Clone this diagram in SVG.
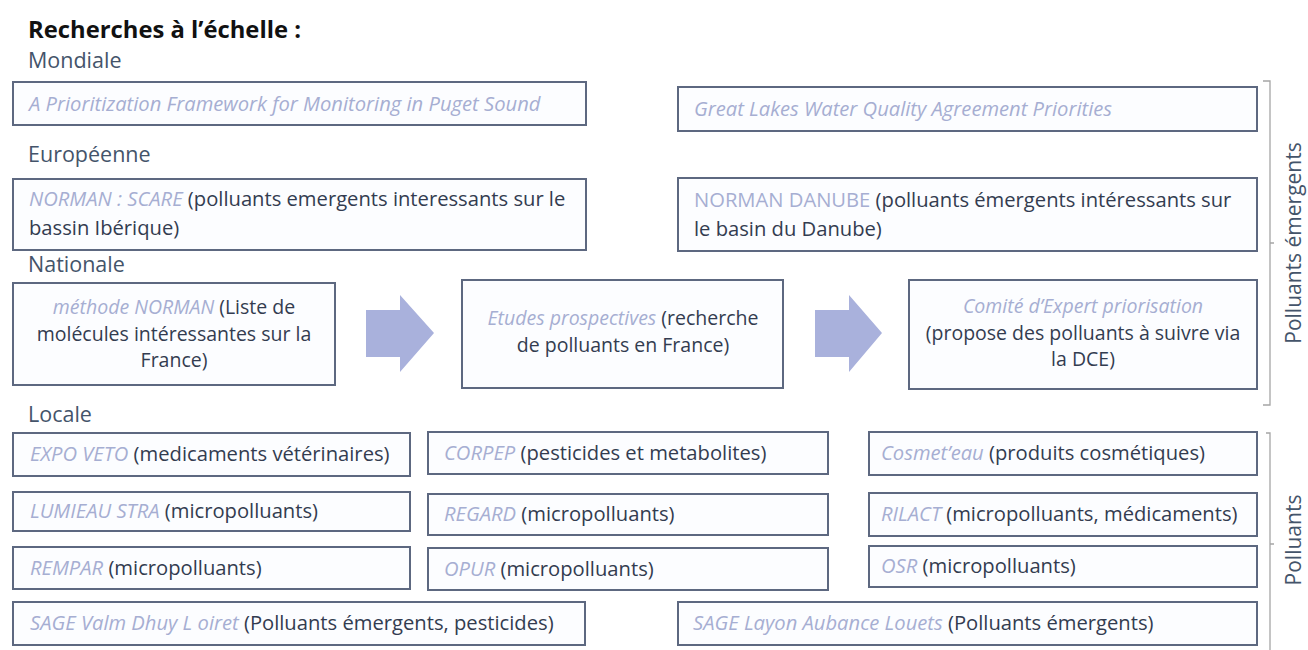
<svg xmlns="http://www.w3.org/2000/svg" width="1308" height="650" viewBox="0 0 1308 650">
<defs>
<style>
.box{fill:#fcfdff;stroke:#5d6880;stroke-width:2}
.t{font-family:"Open Sans","Liberation Sans",sans-serif;font-size:20.2px;fill:#333c50}
.c{font-size:19.5px;text-anchor:middle}
.i{font-style:italic;fill:#a6aed2}
.n{font-style:normal}
.lab{font-family:"Open Sans","Liberation Sans",sans-serif;font-size:21.5px;fill:#44546a}
.title{font-family:"Open Sans","Liberation Sans",sans-serif;font-size:23.8px;font-weight:bold;fill:#111}
.br{fill:none;stroke:#a5a5a5;stroke-width:1.3}
.arr{fill:#a9b1dc}
.side{font-family:"Open Sans","Liberation Sans",sans-serif;font-size:21px;fill:#44546a}
</style>
</defs>
<rect width="1308" height="650" fill="#ffffff"/>
<g id="labels">
<text class="title" x="28" y="38">Recherches à l’échelle :</text>
<text class="lab" x="28" y="68">Mondiale</text>
<text class="lab" x="28" y="162">Européenne</text>
<text class="lab" x="28" y="272">Nationale</text>
<text class="lab" x="28" y="422">Locale</text>
</g>
<g id="n-puget"><rect class="box" x="13" y="82" width="573" height="43"/><text class="t i" x="29" y="111">A Prioritization Framework for Monitoring in Puget Sound</text></g>
<g id="n-greatlakes"><rect class="box" x="678" y="87" width="579" height="44"/><text class="t i" x="694" y="116">Great Lakes Water Quality Agreement Priorities</text></g>
<g id="n-scare"><rect class="box" x="13" y="179" width="573" height="71"/><text class="t" x="29" y="206"><tspan class="i">NORMAN : SCARE</tspan> (polluants emergents interessants sur le</text><text class="t" x="29" y="235">bassin Ibérique)</text></g>
<g id="n-danube"><rect class="box" x="678" y="178" width="579" height="73"/><text class="t" x="694" y="207"><tspan class="i n">NORMAN DANUBE</tspan> (polluants émergents intéressants sur</text><text class="t" x="694" y="236">le basin du Danube)</text></g>
<g id="n-methode"><rect class="box" x="13" y="283" width="322" height="102"/><text class="t c" x="174" y="314"><tspan class="i">méthode NORMAN</tspan> (Liste de</text><text class="t c" x="174" y="341">molécules intéressantes sur la</text><text class="t c" x="174" y="367">France)</text></g>
<g id="n-etudes"><rect class="box" x="462" y="280" width="321" height="108"/><text class="t c" x="623" y="325"><tspan class="i">Etudes prospectives</tspan> (recherche</text><text class="t c" x="623" y="352">de polluants en France)</text></g>
<g id="n-comite"><rect class="box" x="909" y="280" width="348" height="109"/><text class="t c i" x="1083" y="313">Comité d’Expert priorisation</text><text class="t c" x="1083" y="340">(propose des polluants à suivre via</text><text class="t c" x="1083" y="366">la DCE)</text></g>
<g id="n-expoveto"><rect class="box" x="13" y="433" width="397" height="43"/><text class="t" x="30" y="461"><tspan class="i">EXPO VETO</tspan> (medicaments vétérinaires)</text></g>
<g id="n-corpep"><rect class="box" x="428" y="432" width="400" height="42"/><text class="t" x="444" y="460"><tspan class="i">CORPEP</tspan> (pesticides et metabolites)</text></g>
<g id="n-cosmeteau"><rect class="box" x="869" y="432" width="388" height="43"/><text class="t" x="881" y="460"><tspan class="i">Cosmet’eau</tspan> (produits cosmétiques)</text></g>
<g id="n-lumieau"><rect class="box" x="13" y="492" width="397" height="39"/><text class="t" x="30" y="518"><tspan class="i">LUMIEAU STRA</tspan> (micropolluants)</text></g>
<g id="n-regard"><rect class="box" x="428" y="494" width="400" height="41"/><text class="t" x="444" y="521"><tspan class="i">REGARD</tspan> (micropolluants)</text></g>
<g id="n-rilact"><rect class="box" x="869" y="493" width="388" height="43"/><text class="t" x="881" y="521"><tspan class="i">RILACT</tspan> (micropolluants, médicaments)</text></g>
<g id="n-rempar"><rect class="box" x="13" y="547" width="397" height="42"/><text class="t" x="30" y="575"><tspan class="i">REMPAR</tspan> (micropolluants)</text></g>
<g id="n-opur"><rect class="box" x="428" y="548" width="400" height="42"/><text class="t" x="444" y="576"><tspan class="i">OPUR</tspan> (micropolluants)</text></g>
<g id="n-osr"><rect class="box" x="869" y="546" width="388" height="41"/><text class="t" x="881" y="573"><tspan class="i">OSR</tspan> (micropolluants)</text></g>
<g id="n-sagevalm"><rect class="box" x="13" y="602" width="572" height="43"/><text class="t" x="30" y="630"><tspan class="i">SAGE Valm Dhuy L oiret</tspan> (Polluants émergents, pesticides)</text></g>
<g id="n-sagelayon"><rect class="box" x="678" y="602" width="579" height="43"/><text class="t" x="693" y="630"><tspan class="i">SAGE Layon Aubance Louets</tspan> (Polluants émergents)</text></g>
<g id="connectors">
<polygon class="arr" points="366,310 400,310 400,295 434,333 400,372 400,357 366,357"/>
<polygon class="arr" points="815,310 849,310 849,295 882,333 849,372 849,357 815,357"/>
<path class="br" d="M1263,81 H1270 V405 H1263 M1270,243 H1274"/>
<path class="br" d="M1266,433 H1270 V650 M1270,544 H1274"/>
</g>
<g id="side-labels">
<text class="side" text-anchor="middle" transform="translate(1301,243) rotate(-90)">Polluants émergents</text>
<text class="side" text-anchor="middle" transform="translate(1301,540) rotate(-90)">Polluants</text>
</g>
</svg>
